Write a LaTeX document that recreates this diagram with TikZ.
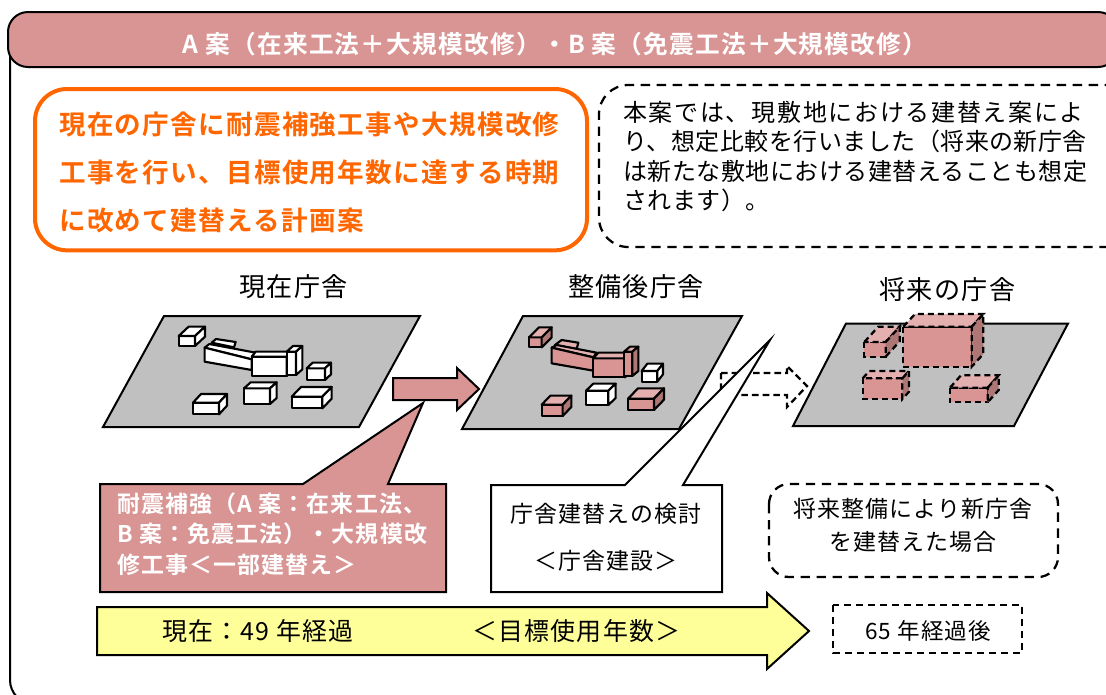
\documentclass[tikz,border=0pt]{standalone}
\usepackage{fontspec}
\setmainfont{Noto Sans CJK JP}
\newfontfamily\jpsp[LetterSpace=5]{Noto Sans CJK JP}
\newfontfamily\jpbold[LetterSpace=5]{Noto Sans CJK JP Bold}
\newfontfamily\jpwide[LetterSpace=7]{Noto Sans CJK JP}
\newfontfamily\jpnarrow[LetterSpace=2]{Noto Sans CJK JP}
\definecolor{pinkfill}{RGB}{217,149,148}
\definecolor{pinktop}{RGB}{228,176,175}
\definecolor{pinkside}{RGB}{174,119,118}
\definecolor{plate}{RGB}{192,192,192}
\definecolor{orangeline}{RGB}{255,102,0}
\definecolor{yellowfill}{RGB}{255,255,153}
\tikzset{
  plan/.style={draw=black,fill=plate,line width=1.5pt,line join=miter},
  bldg/.style={draw=black,line width=1.6pt,line join=round},
  dashbldg/.style={draw=black,line width=1.7pt,dash pattern=on 4.5pt off 3pt},
  note/.style={draw=black,line width=1.7pt,dash pattern=on 7pt off 5pt},
  txt/.style={inner sep=0pt,align=left,font=\jpsp\fontsize{18.7}{18.7}\selectfont},
  hdr/.style={inner sep=0pt,font=\jpsp\fontsize{19.6}{22}\selectfont},
  callout/.style={draw=black,line width=1.5pt,line join=miter},
}
\usetikzlibrary{calc}
% x1 y1 x2 y2 d front top side style
\newcommand{\boxthree}[9]{%
  \path[#9,fill=#6] (#1,#2) rectangle (#3,#4);
  \path[#9,fill=#7] (#1,#2) -- ++(#5) -- ($(#3,#2)+(#5)$) -- (#3,#2) -- cycle;
  \path[#9,fill=#8] (#3,#2) -- ($(#3,#2)+(#5)$) -- ($(#3,#4)+(#5)$) -- (#3,#4) -- cycle;
}
\begin{document}
\begin{tikzpicture}[x=0.75pt,y=-0.75pt]
\useasboundingbox (0,0) rectangle (1106,694);
\begin{scope}
\clip (0,0) rectangle (1106,694);
% frame
\draw[black,line width=1.5pt,rounded corners=18pt] (10,30) -- (10,704) -- (1130,704);
\path[draw=black,fill=pinkfill,line width=1.5pt,rounded corners=15pt] (8,12) -- (8,67) -- (1118,67) -- (1118,12) -- cycle;
\node[txt,text=white,font=\jpbold\fontsize{18.5}{20}\selectfont,anchor=center] (title) at (555,44) {A 案（在来工法＋大規模改修）・B 案（免震工法＋大規模改修）};
% orange box
\node[draw=orangeline,line width=3pt,rounded corners=24pt,fill=white,minimum width=414pt,minimum height=121pt,inner sep=0pt,anchor=north west] (lead) at (33,87) {};
\node[txt,text=orangeline,anchor=west,font=\jpbold\fontsize{19.9}{36}\selectfont] (leadtext) at (59,172.5) {現在の庁舎に耐震補強工事や大規模改修\\工事を行い、目標使用年数に達する時期\\に改めて建替える計画案};
% dashed note
\draw[note,rounded corners=22pt] (1130,85) -- (599,85) -- (599,247) -- (1130,247);
\node[txt,anchor=north west,font=\jpnarrow\fontsize{18}{22}\selectfont] (notetext) at (623,101) {{\jpwide 本案では、現敷地における建替え案によ}\\り、想定比較を行いました（将来の新庁舎\\は新たな敷地における建替えることも想定\\されます）。};
\end{scope}
% headers
\node[hdr] (h1) at (293.5,287) {現在庁舎};
\node[hdr] (h2) at (636,287) {整備後庁舎};
\node[hdr] (h3) at (947.5,290) {将来の庁舎};
% plates
\path[plan] (164,316) -- (420,316) -- (359,427) -- (103,427) -- cycle;
\path[plan] (523,316) -- (742,316) -- (679,429) -- (462,429) -- cycle;
\path[plan] (846,323.5) -- (1068,323.5) -- (1014,426) -- (793,426) -- cycle;
% current buildings
\begin{scope}[shift={(90,300)},x=0.25pt,y=-0.25pt]
\boxthree{266}{108}{315}{138}{30,-28}{white}{white}{white}{bldg}
\boxthree{650}{205}{705}{240}{18,-17}{white}{white}{white}{bldg}
\boxthree{462}{265}{540}{312}{20,-18}{white}{white}{white}{bldg}
\boxthree{309}{308}{387}{343}{24,-26}{white}{white}{white}{bldg}
\boxthree{605}{290}{697}{325}{28,-29}{white}{white}{white}{bldg}
\path[bldg,fill=white] (365,128) -- (378,117) -- (437,126) -- (432,142) -- cycle;
\path[bldg,fill=white] (344,143) -- (358,132) -- (497,158) -- (485,178) -- cycle;
\path[bldg,fill=white] (344,143) -- (485,178) -- (485,210) -- (344,185) -- cycle;
\boxthree{485}{170}{590}{228}{12,-15}{white}{white}{white}{bldg}
\boxthree{590}{155}{618}{225}{19,-17}{white}{white}{white}{bldg}
\end{scope}
% renovated buildings
\begin{scope}[shift={(440,300)},x=0.25pt,y=-0.25pt]
\boxthree{267}{112}{305}{142}{30,-30}{pinkfill}{pinktop}{pinkside}{bldg}
\boxthree{605}{213}{652}{245}{17,-22}{white}{white}{white}{bldg}
\boxthree{438}{272}{505}{315}{22,-21}{white}{white}{white}{bldg}
\boxthree{305}{314}{368}{348}{26,-27}{pinkfill}{pinktop}{pinkside}{bldg}
\boxthree{564}{296}{642}{330}{30,-31}{pinkfill}{pinktop}{pinkside}{bldg}
\path[bldg,fill=pinktop] (345,135) -- (365,120) -- (415,128) -- (410,147) -- cycle;
\path[bldg,fill=pinktop] (335,143) -- (350,135) -- (470,158) -- (460,172) -- cycle;
\path[bldg,fill=pinkfill] (335,143) -- (460,172) -- (460,212) -- (335,190) -- cycle;
\boxthree{460}{175}{555}{232}{15,-17}{pinkfill}{pinktop}{pinkside}{bldg}
\boxthree{552}{155}{577}{228}{18,-15}{pinkfill}{pinktop}{pinkside}{bldg}
\end{scope}
% future buildings
\begin{scope}[shift={(720,300)},x=0.25pt,y=-0.25pt]
\boxthree{433}{126}{497}{170}{42,-46}{pinkfill}{pinktop}{pinkside}{dashbldg}
\boxthree{550}{80}{755}{200}{35,-38}{pinkfill}{pinktop}{pinkside}{dashbldg}
\boxthree{428}{235}{547}{297}{20,-22}{pinkfill}{pinktop}{pinkside}{dashbldg}
\boxthree{690}{263}{803}{307}{33,-37}{pinkfill}{pinktop}{pinkside}{dashbldg}
\end{scope}
% arrows
\path[callout,fill=pinkfill] (393,378) -- (457,378) -- (457,368) -- (479,389) -- (457,410) -- (457,400) -- (393,400) -- cycle;
\draw[note,dash pattern=on 5pt off 3pt] (721,373) -- (787,373) -- (787,366) -- (807,386) -- (787,407) -- (787,395) -- (721,395) -- cycle;
% callouts
\path[callout,fill=pinkfill] (100,484) -- (303,484) -- (423,403) -- (388,484) -- (446,484) -- (446,592) -- (100,592) -- cycle;
\node[txt,text=white,anchor=north west,font=\jpbold\fontsize{17.2}{23}\selectfont] (c1text) at (117,492) {耐震補強（A 案：在来工法、\\B 案：免震工法）・大規模改\\修工事＜一部建替え＞};
\path[callout,fill=white] (491,485) -- (625,485) -- (770,340) -- (683,485) -- (722,485) -- (722,592) -- (491,592) -- cycle;
\node[txt,anchor=center,align=center,font=\jpsp\fontsize{17.2}{35}\selectfont] (c2text) at (606,537.5) {庁舎建替えの検討\\＜庁舎建設＞};
\draw[note,rounded corners=15pt] (769,484) rectangle (1058,577);
\node[txt,anchor=center,align=center,font=\jpsp\fontsize{17.2}{25}\selectfont] (c3text) at (913,525) {将来整備により新庁舎\\を建替えた場合};
% timeline
\path[callout,fill=yellowfill] (97,607) -- (767,607) -- (767,593) -- (809,631) -- (767,669) -- (767,655) -- (97,655) -- cycle;
\node[txt,anchor=west] (t1) at (162,631) {現在：49 年経過};
\node[txt,anchor=west] (t2) at (472,631) {＜目標使用年数＞};
\draw[note,dash pattern=on 5pt off 4pt] (833,605) rectangle (1022,653);
\node[txt,font=\jpsp\fontsize{16.9}{18}\selectfont] (t3) at (928,631) {65 年経過後};
\end{tikzpicture}
\end{document}
